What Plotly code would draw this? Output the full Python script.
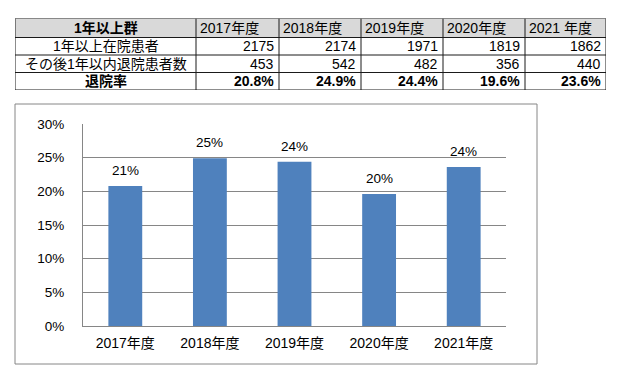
import plotly.graph_objects as go

years = ["2017年度", "2018年度", "2019年度", "2020年度", "2021年度"]
table_years = ["2017年度", "2018年度", "2019年度", "2020年度", "2021 年度"]
inpatients = [2175, 2174, 1971, 1819, 1862]
discharged = [453, 542, 482, 356, 440]
rates = [0.208, 0.249, 0.244, 0.196, 0.236]
row_labels = ["1年以上在院患者", "その後1年以内退院患者数", "<b>退院率</b>"]
group_label = "<b>1年以上群</b>"

W, H = 623, 377
def px_x(x): return x / W
def px_y(y): return 1 - y / H

FONT = "Liberation Sans, Noto Sans CJK JP"
TFONT = "Liberation Sans, Noto Sans CJK JP"

# table layout (pixel units on hidden axes x2/y2)
col_edges = [15, 196, 279, 361, 443, 525, 606]
row_edges = [18.5, 37.5, 55, 72.5, 90]
GRID = "#1a1a1a"

fig = go.Figure()

fig.add_trace(go.Bar(
    x=years, y=rates,
    marker=dict(color="#4f81bd", line=dict(width=0)),
    width=0.4,
    hoverinfo="skip",
    xaxis="x", yaxis="y",
))

fig.add_trace(go.Scatter(x=[col_edges[1]], y=[row_edges[1]], mode="markers",
                         marker=dict(opacity=0, size=1), xaxis="x2", yaxis="y2",
                         hoverinfo="skip", cliponaxis=True))

shapes = []
annotations = []

shapes.append(dict(type="rect", xref="x2", yref="y2",
                   x0=col_edges[0], x1=col_edges[-1], y0=row_edges[0], y1=row_edges[1],
                   fillcolor="#d9d9d9", line=dict(width=0), layer="below"))
for ye in row_edges:
    shapes.append(dict(type="line", xref="x2", yref="y2",
                       x0=col_edges[0], x1=col_edges[-1], y0=ye, y1=ye,
                       line=dict(color=GRID, width=1)))
for xe in col_edges:
    shapes.append(dict(type="line", xref="x2", yref="y2",
                       x0=xe, x1=xe, y0=row_edges[0], y1=row_edges[-1],
                       line=dict(color=GRID, width=1)))

def cell_text(text, ci, ri, align):
    x0, x1 = col_edges[ci], col_edges[ci + 1]
    yc = (row_edges[ri] + row_edges[ri + 1]) / 2
    if align == "center":
        x, xa = (x0 + x1) / 2, "center"
    elif align == "left":
        x, xa = x0 + 2, "left"
    else:
        x, xa = x1 - 3, "right"
    annotations.append(dict(text=text, x=x, y=yc, xref="x2", yref="y2",
                            xanchor=xa, yanchor="middle", showarrow=False,
                            font=dict(family=TFONT, size=14, color="black")))

cell_text(group_label, 0, 0, "center")
for i, ty in enumerate(table_years):
    cell_text(ty, i + 1, 0, "left")
for r, lab in enumerate(row_labels):
    cell_text(lab, 0, r + 1, "center")
for i in range(len(years)):
    cell_text(str(inpatients[i]), i + 1, 1, "right")
    cell_text(str(discharged[i]), i + 1, 2, "right")
    cell_text("<b>%.1f%%</b>" % (rates[i] * 100), i + 1, 3, "right")

for yr, r in zip(years, rates):
    annotations.append(dict(text="%d%%" % round(r * 100), x=yr, y=r,
                            xref="x", yref="y", xanchor="center", yanchor="bottom",
                            yshift=6, showarrow=False,
                            font=dict(family=FONT, size=13.5, color="black")))

shapes.append(dict(type="rect", xref="paper", yref="paper",
                   x0=px_x(15), x1=px_x(537), y0=px_y(364), y1=px_y(104),
                   line=dict(color="#868686", width=1), fillcolor="rgba(0,0,0,0)",
                   layer="below"))

fig.update_layout(
    template="none",
    width=W, height=H,
    margin=dict(l=0, r=0, t=0, b=0, pad=0, autoexpand=False),
    paper_bgcolor="white", plot_bgcolor="rgba(0,0,0,0)",
    showlegend=False,
    xaxis=dict(
        domain=[px_x(83), px_x(506)],
        anchor="y", automargin=False,
        showline=True, linecolor="#868686", linewidth=1,
        showgrid=False, ticks="",
        tickfont=dict(family=FONT, size=14, color="black"),
        ticklabelstandoff=4,
        fixedrange=True,
    ),
    yaxis=dict(
        domain=[px_y(326), px_y(124)],
        anchor="x", automargin=False,
        range=[0, 0.30], dtick=0.05, tickformat=".0%",
        showline=True, linecolor="#868686", linewidth=1,
        showgrid=True, gridcolor="#868686", gridwidth=1,
        zeroline=False, ticks="",
        tickfont=dict(family=FONT, size=13.5, color="black"),
        ticklabelstandoff=15,
        fixedrange=True,
    ),
    xaxis2=dict(domain=[px_x(col_edges[0]), px_x(col_edges[-1])], anchor="y2",
                automargin=False,
                range=[col_edges[0], col_edges[-1]], visible=False, fixedrange=True),
    yaxis2=dict(domain=[px_y(row_edges[-1]), px_y(row_edges[0])], anchor="x2",
                automargin=False,
                range=[row_edges[-1], row_edges[0]], visible=False, fixedrange=True),
    shapes=shapes,
    annotations=annotations,
)

fig.write_html("out.html", config=dict(displayModeBar=False),
               post_script="document.body.style.margin='0';document.body.style.overflow='hidden';")
